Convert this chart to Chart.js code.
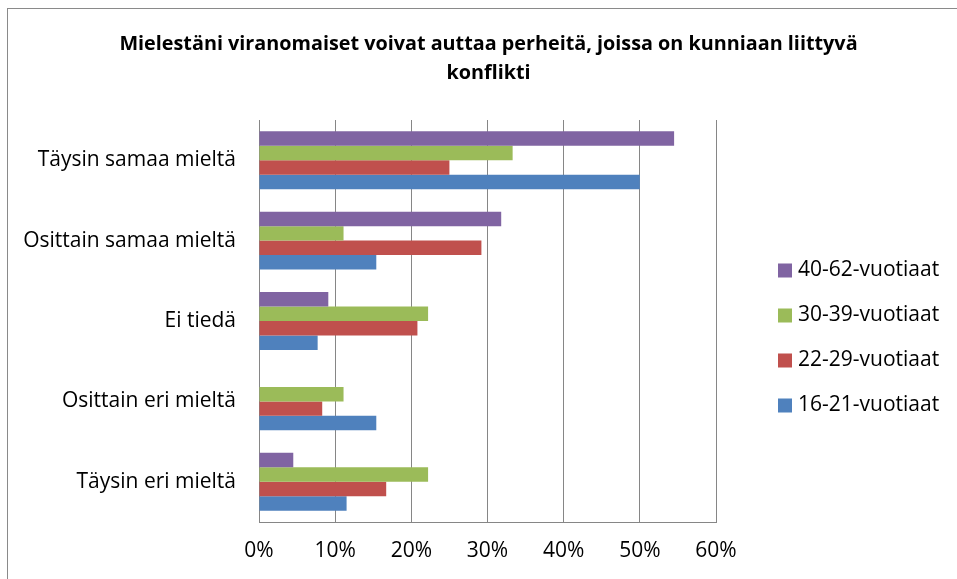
<!DOCTYPE html>
<html>
<head>
<meta charset="utf-8">
<script src="https://cdn.jsdelivr.net/npm/chart.js@4"></script>
<style>
  html, body { margin: 0; padding: 0; background: #fff; overflow: hidden; }
  #frame {
    position: absolute; left: 7px; top: 8px;
    width: 961px; height: 571px;
    border: 1px solid #8a8a8a;
  }
</style>
</head>
<body>
<div id="frame"><canvas id="chart" width="961" height="571"></canvas></div>
<script>
// --- Data ---
const categories = ['Täysin samaa mieltä', 'Osittain samaa mieltä', 'Ei tiedä', 'Osittain eri mieltä', 'Täysin eri mieltä'];
const seriesNames = ['40-62-vuotiaat', '30-39-vuotiaat', '22-29-vuotiaat', '16-21-vuotiaat'];
const age40to62 = [54.5, 31.8, 9.1, 0, 4.5];
const age30to39 = [33.3, 11.1, 22.2, 11.1, 22.2];
const age22to29 = [25.0, 29.2, 20.8, 8.3, 16.7];
const age16to21 = [50.0, 15.4, 7.7, 15.4, 11.5];
const seriesColors = ['#8064A2', '#9BBB59', '#C0504D', '#4F81BD'];
const titleLines = ['Mielestäni viranomaiset voivat auttaa perheitä, joissa on kunniaan liittyvä', 'konflikti'];

const FONT = '"Open Sans", Lato, sans-serif';
const GRID = '#868686';

// legend drawn to the right of the plot, one row per series
const sideLegend = {
    id: 'sideLegend',
    afterDraw(chart) {
        const c = chart.ctx;
        const area = chart.chartArea;
        const x = area.right + 62;
        const rowGap = 45;
        const n = chart.data.datasets.length;
        const midY = (area.top + area.bottom) / 2 + 17;
        c.save();
        c.font = '21px ' + FONT;
        c.textBaseline = 'middle';
        c.textAlign = 'left';
        chart.data.datasets.forEach((ds, i) => {
            const y = midY + (i - (n - 1) / 2) * rowGap;
            c.fillStyle = ds.backgroundColor;
            c.fillRect(x, y - 7, 14, 14);
            c.fillStyle = '#000';
            c.fillText(ds.label, x + 20, y);
        });
        c.restore();
    }
};

const allSeries = [age40to62, age30to39, age22to29, age16to21];

new Chart(document.getElementById('chart'), {
    type: 'bar',
    data: {
        labels: categories,
        datasets: allSeries.map((values, i) => ({
            label: seriesNames[i],
            data: values,
            backgroundColor: seriesColors[i],
            borderWidth: 0,
            categoryPercentage: 0.72,
            barPercentage: 1.0
        }))
    },
    options: {
        indexAxis: 'y',
        responsive: false,
        animation: false,
        layout: { padding: 0 },
        plugins: {
            legend: { display: false },
            tooltip: { enabled: false },
            title: {
                display: true,
                text: titleLines,
                color: '#000',
                font: { family: FONT, size: 19.8, weight: 'bold', lineHeight: '29px' },
                padding: { top: 20.5, bottom: 32.5 }
            }
        },
        scales: {
            x: {
                min: 0,
                max: 60,
                ticks: {
                    stepSize: 10,
                    color: '#000',
                    font: { family: FONT, size: 21 },
                    padding: 16.5,
                    callback: v => v + '%'
                },
                grid: { color: GRID, lineWidth: 1, drawTicks: false },
                border: { display: true, color: GRID, width: 1 },
                afterFit: s => { s.height = 58; }
            },
            y: {
                ticks: {
                    color: '#000',
                    font: { family: FONT, size: 21 },
                    padding: 23
                },
                grid: { display: false, drawTicks: false },
                border: { display: true, color: GRID, width: 1 },
                afterFit: s => { s.width = 251; }
            },
            // empty axis that keeps the right side free for the legend
            yRight: {
                position: 'right',
                type: 'category',
                ticks: { display: false },
                grid: { display: false, drawTicks: false },
                border: { display: false },
                afterFit: s => { s.width = 253; }
            }
        }
    },
    plugins: [sideLegend]
});
</script>
</body>
</html>
